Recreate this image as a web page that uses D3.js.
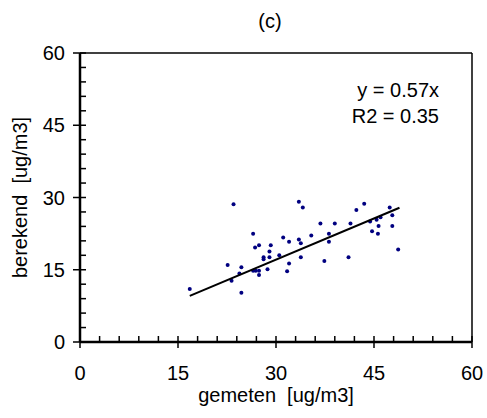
<!DOCTYPE html>
<html>
<head>
<meta charset="utf-8">
<script src="https://cdn.jsdelivr.net/npm/d3@7"></script>
<style>
  body { margin: 0; background: #fff; }
  svg text { font-family: "Liberation Sans", Arial, sans-serif; fill: #000; }
</style>
</head>
<body>
<div id="chart"></div>
<script>
// measured (gemeten) vs computed (berekend), ug/m3
const gemeten = [
  16.8, 23.5, 26.5, 22.6, 24.7, 24.4, 23.2, 24.7, 26.8, 27.4,
  26.5, 26.9, 27.4, 27.4, 28.1, 28.1, 28.7, 29.0, 29.2, 29.0,
  30.5, 31.1, 32.0, 32.0, 31.7, 33.5, 34.1, 33.5, 33.8, 33.8,
  35.4, 36.8, 37.4, 38.1, 38.1, 39.0, 41.1, 41.4, 42.3, 43.5,
  44.4, 44.7, 45.4, 45.7, 45.6, 46.0, 47.4, 47.8, 47.8, 48.7
];
const berekend = [
  11.0, 28.6, 22.5, 16.0, 15.5, 14.2, 12.7, 10.2, 19.6, 20.1,
  14.8, 14.8, 14.8, 13.9, 17.6, 17.2, 15.1, 18.8, 20.1, 17.6,
  18.0, 21.7, 20.8, 16.3, 14.7, 29.1, 27.9, 21.3, 20.5, 17.6,
  22.1, 24.6, 16.8, 22.5, 20.8, 24.6, 17.6, 24.6, 27.4, 28.7,
  25.0, 23.0, 25.4, 24.1, 22.5, 25.9, 27.9, 26.3, 24.1, 19.2
];
const slope = 0.57;
const r2 = 0.35;
const axisTicks = [0, 15, 30, 45, 60];
const minorTicks = d3.range(0, 61, 3);

const W = 487, H = 418;
const pL = 80, pR = 472, pT = 53, pB = 342;

const svg = d3.select("#chart").append("svg")
  .attr("width", W).attr("height", H);

const x = d3.scaleLinear().domain([0, 60]).range([pL, pR]);
const y = d3.scaleLinear().domain([0, 60]).range([pB, pT]);

// frame: top and right thin
svg.append("line")
  .attr("x1", pL).attr("x2", pR).attr("y1", pT).attr("y2", pT)
  .attr("stroke", "#000").attr("stroke-width", 1.5);
svg.append("line")
  .attr("x1", pR).attr("x2", pR).attr("y1", pT).attr("y2", pB)
  .attr("stroke", "#000").attr("stroke-width", 1.5);

// minor ticks (inside)
const minor = minorTicks.filter(d => !axisTicks.includes(d));
svg.append("g").selectAll("line")
  .data(minor)
  .join("line")
    .attr("x1", d => x(d)).attr("x2", d => x(d))
    .attr("y1", pB).attr("y2", pB - 6)
    .attr("stroke", "#000").attr("stroke-width", 1.5);
svg.append("g").selectAll("line")
  .data(minor)
  .join("line")
    .attr("y1", d => y(d)).attr("y2", d => y(d))
    .attr("x1", pL).attr("x2", pL + 6)
    .attr("stroke", "#000").attr("stroke-width", 1.5);

// major ticks (crossing)
svg.append("g").selectAll("line")
  .data(axisTicks)
  .join("line")
    .attr("x1", d => x(d)).attr("x2", d => x(d))
    .attr("y1", pB - 6).attr("y2", pB + 6)
    .attr("stroke", "#000").attr("stroke-width", 1.5);
svg.append("g").selectAll("line")
  .data(axisTicks)
  .join("line")
    .attr("y1", d => y(d)).attr("y2", d => y(d))
    .attr("x1", pL - 7).attr("x2", pL + 6)
    .attr("stroke", "#000").attr("stroke-width", 1.5);

// main axes
svg.append("line")
  .attr("x1", pL).attr("x2", pR).attr("y1", pB).attr("y2", pB)
  .attr("stroke", "#000").attr("stroke-width", 2.5);
svg.append("line")
  .attr("x1", pL).attr("x2", pL).attr("y1", pT).attr("y2", pB)
  .attr("stroke", "#000").attr("stroke-width", 2.5);

// tick labels
svg.append("g").selectAll("text")
  .data(axisTicks)
  .join("text")
    .attr("x", d => x(d)).attr("y", 380)
    .attr("text-anchor", "middle")
    .attr("font-size", "20px")
    .text(d => d);
svg.append("g").selectAll("text")
  .data(axisTicks)
  .join("text")
    .attr("x", pL - 15).attr("y", d => y(d) + 7)
    .attr("text-anchor", "end")
    .attr("font-size", "20px")
    .text(d => d);

// axis titles
svg.append("text")
  .attr("x", (pL + pR) / 2).attr("y", 402)
  .attr("text-anchor", "middle")
  .attr("font-size", "20px")
  .attr("xml:space", "preserve")
  .text("gemeten  [ug/m3]");
svg.append("text")
  .attr("transform", `translate(27,${(pT + pB) / 2}) rotate(-90)`)
  .attr("text-anchor", "middle")
  .attr("font-size", "20px")
  .attr("xml:space", "preserve")
  .text("berekend  [ug/m3]");

// title
svg.append("text")
  .attr("x", 270).attr("y", 28)
  .attr("text-anchor", "middle")
  .attr("font-size", "20px")
  .text("(c)");

// points
const pts = gemeten.map((g, i) => ({ g, b: berekend[i] }));
svg.append("g").selectAll("circle")
  .data(pts)
  .join("circle")
    .attr("cx", d => x(d.g))
    .attr("cy", d => y(d.b))
    .attr("r", 2)
    .attr("fill", "#000080");

// regression line y = slope * x
const [xmin, xmax] = d3.extent(gemeten);
svg.append("line")
  .attr("x1", x(xmin)).attr("y1", y(slope * xmin))
  .attr("x2", x(xmax + 0.2)).attr("y2", y(slope * (xmax + 0.2)))
  .attr("stroke", "#000").attr("stroke-width", 2);

// equation
svg.append("text")
  .attr("x", 439).attr("y", 97)
  .attr("text-anchor", "end")
  .attr("font-size", "20px")
  .text(`y = ${slope}x`);
svg.append("text")
  .attr("x", 439).attr("y", 123)
  .attr("text-anchor", "end")
  .attr("font-size", "20px")
  .text(`R2 = ${r2}`);
</script>
</body>
</html>
